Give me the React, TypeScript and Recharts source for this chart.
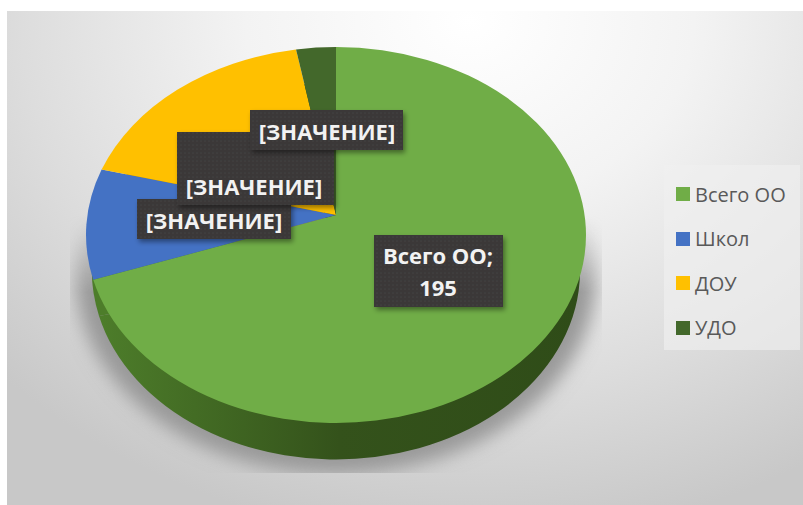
import React from "react";
import { PieChart, Pie, Legend } from "recharts";

const categories = ["Всего ОО", "Школ", "ДОУ", "УДО"];
const values = [195, 26, 46, 7];
const sliceLabels = [["Всего ОО;", "195"], ["[ЗНАЧЕНИЕ]"], ["[ЗНАЧЕНИЕ]"], ["[ЗНАЧЕНИЕ]"]];
const colors = ["#70ad47", "#4472c4", "#ffc000", "#43682b"];
const wallColors = ["url(#wall)", "#4d7d2a", "#a87f00", "#2c451c"];

const data = categories.map((name, i) => ({ name, value: values[i] }));
const topData = data.map((d, i) => ({ ...d, fill: colors[i] }));
const wallData = data.map((d, i) => ({ ...d, fill: wallColors[i] }));

// label boxes, same order as categories (the stacked ones overlap as in the original)
const labelBoxes = [
  { x: 374, y: 235, w: 129, h: 72, lines: [255, 287], cx: 438 },
  { x: 137, y: 199, w: 154, h: 40, lines: [220], cx: 214 },
  { x: 177, y: 132, w: 157, h: 73, lines: [186], cx: 254 },
  { x: 250, y: 110, w: 153, h: 40, lines: [131], cx: 327 },
];

const TILT = 0.752; // squash of the pie into an ellipse
const APEX = 20; // perspective shift of the slice meeting point

const ellipseSector = (cx: number, cy: number, rx: number, ry: number, startAngle: number, endAngle: number, apexY: number) => {
  const pt = (a: number) => {
    const r = (a * Math.PI) / 180;
    return `${cx + rx * Math.cos(r)} ${cy - ry * Math.sin(r)}`;
  };
  const large = Math.abs(endAngle - startAngle) > 180 ? 1 : 0;
  return `M ${cx} ${apexY} L ${pt(startAngle)} A ${rx} ${ry} 0 ${large} 1 ${pt(endAngle)} Z`;
};

const TopSlice = (props: any) => {
  const { cx, cy, outerRadius, startAngle, endAngle, fill } = props;
  return <path d={ellipseSector(cx, cy, outerRadius, outerRadius * TILT, startAngle, endAngle, cy - APEX)} fill={fill} />;
};

const WallSlice = (props: any) => {
  const { cx, cy, outerRadius, startAngle, endAngle, fill } = props;
  const ry = outerRadius * TILT + 5;
  return <path d={ellipseSector(cx, cy, outerRadius, ry, startAngle, endAngle, cy)} fill={fill} />;
};

const SliceLabel = (props: any) => {
  const box = labelBoxes[props.index];
  return (
    <g>
      <rect x={box.x} y={box.y} width={box.w} height={box.h} fill="url(#dots)" filter="url(#boxShadow)" />
      {sliceLabels[props.index].map((line, i) => (
        <text
          key={i}
          x={box.cx}
          y={box.lines[i]}
          textAnchor="middle"
          dominantBaseline="central"
          fill="#f2f2f2"
          fontSize={22}
          fontWeight={700}
          fontFamily="'Open Sans', sans-serif"
        >
          {line}
        </text>
      ))}
    </g>
  );
};

const LegendBox = ({ payload }: any) => {
  const items = categories.filter((name) => (payload || []).some((p: any) => p.value === name));
  return (
    <div style={{ width: 136, height: 185, background: "rgba(240,240,240,0.65)", position: "relative" }}>
      {items.map((name, i) => (
        <div
          key={name}
          style={{
            position: "absolute",
            left: 12,
            top: 14 + i * 44.6,
            height: 30,
            display: "flex",
            alignItems: "center",
            fontFamily: "'Open Sans', sans-serif",
            fontSize: 20,
            color: "#595959",
            whiteSpace: "nowrap",
          }}
        >
          <span style={{ width: 14, height: 14, background: colors[i], marginRight: 5 }} />
          {name}
        </div>
      ))}
    </div>
  );
};

export default function App() {
  return (
    <div style={{ position: "fixed", left: 0, top: 0, width: 803, height: 505, background: "#fff" }}>
      <div
        style={{
          position: "absolute",
          left: 7,
          top: 11,
          width: 796,
          height: 494,
          background: "radial-gradient(ellipse 640px 520px at 463px 10px, #ffffff 0%, #f3f3f3 35%, #dddddd 70%, #c8c8c8 100%)",
        }}
      />
      <PieChart width={803} height={505} margin={{ top: 0, right: 0, bottom: 0, left: 0 }} style={{ position: "absolute", left: 0, top: 0 }}>
        <defs>
          <linearGradient id="wall" x1="0" y1="0" x2="1" y2="0">
            <stop offset="0" stopColor="#4d7d2a" />
            <stop offset="0.5" stopColor="#34521b" />
            <stop offset="1" stopColor="#2f4c18" />
          </linearGradient>
          <linearGradient id="shadowFade" x1="0" y1="0" x2="0" y2="1">
            <stop offset="0" stopColor="#000" />
            <stop offset="0.3" stopColor="#fff" />
          </linearGradient>
          <pattern id="dots" width="4" height="4" patternUnits="userSpaceOnUse">
            <rect width="4" height="4" fill="#3a3838" />
            <circle cx="1" cy="1" r="0.6" fill="#4c4a4a" />
          </pattern>
          <filter id="boxShadow" x="-10%" y="-10%" width="125%" height="130%">
            <feDropShadow dx="2" dy="3" stdDeviation="2.5" floodColor="#000" floodOpacity="0.4" />
          </filter>
          <filter id="pieShadow" x="-10%" y="-10%" width="120%" height="120%">
            <feGaussianBlur stdDeviation="9" />
          </filter>
          <clipPath id="shadowClip">
            <rect x="70" y="215" width="532" height="258" />
          </clipPath>
          <mask id="shadowMask" maskUnits="userSpaceOnUse" x="0" y="215" width="803" height="258">
            <rect x="0" y="215" width="803" height="258" fill="url(#shadowFade)" />
          </mask>
        </defs>
        <g clipPath="url(#shadowClip)" mask="url(#shadowMask)">
          <ellipse cx="336" cy="276" rx="260" ry="198" fill="#999999" filter="url(#pieShadow)" />
        </g>
        <Pie
          data={wallData}
          dataKey="value"
          nameKey="name"
          cx={336}
          cy={271}
          outerRadius={244}
          startAngle={90}
          endAngle={-270}
          stroke="none"
          legendType="none"
          shape={WallSlice}
          label={false}
          labelLine={false}
          isAnimationActive={false}
        />
        <Pie
          data={topData}
          dataKey="value"
          nameKey="name"
          cx={336}
          cy={235}
          outerRadius={250}
          startAngle={90}
          endAngle={-270}
          stroke="none"
          shape={TopSlice}
          label={SliceLabel}
          labelLine={false}
          isAnimationActive={false}
        />
        <Legend content={LegendBox} wrapperStyle={{ position: "absolute", left: 664, top: 165, width: 136, bottom: "auto" }} />
      </PieChart>
    </div>
  );
}
